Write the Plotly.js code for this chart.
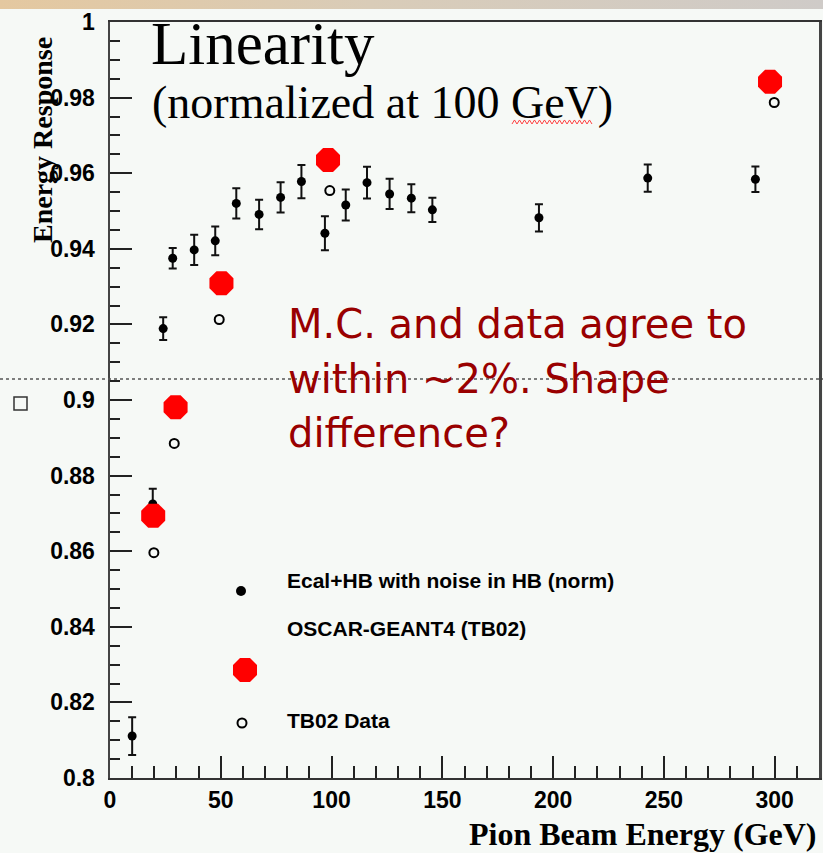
<!DOCTYPE html>
<html>
<head>
<meta charset="utf-8">
<script src="https://cdn.plot.ly/plotly-3.0.1.min.js"></script>
<style>
  html, body { margin: 0; padding: 0; background: #f6f9f6; }
  #band { position: absolute; left: 0; top: 0; width: 823px; height: 9px;
          background: linear-gradient(to right, #e4c8a0 0%, #d9ccb8 45%, #cfcbc8 100%); z-index: 2; }
  #chart { position: absolute; left: 0; top: 0; width: 823px; height: 853px; }
</style>
</head>
<body>
<div id="band"></div>
<div id="chart"></div>
<script>
// Ecal+HB with noise in HB (normalised), with statistical errors
const energyEcal = [10, 19.3, 24, 28.3, 38, 47.5, 57, 67.3, 77, 86.4, 97, 106.4, 116, 126.2, 136, 145.5, 193.6, 242.7, 291.3];
const respEcal   = [0.8111, 0.8725, 0.9189, 0.9375, 0.9397, 0.9421, 0.9520, 0.9491, 0.9536, 0.9578, 0.9441, 0.9516, 0.9575, 0.9545, 0.9534, 0.9503, 0.9482, 0.9587, 0.9584];
const errEcal    = [0.0050, 0.0040, 0.0030, 0.0027, 0.0040, 0.0038, 0.0040, 0.0039, 0.0040, 0.0044, 0.0045, 0.0041, 0.0042, 0.0040, 0.0037, 0.0032, 0.0036, 0.0036, 0.0034];

// OSCAR-GEANT4 (TB02) simulation
const energyOscar = [19.5, 29.6, 50.3, 98.4, 297.9];
const respOscar   = [0.8694, 0.8981, 0.9309, 0.9635, 0.9842];

// TB02 test-beam data
const energyTB02 = [19.8, 29.0, 49.3, 99.2, 299.8];
const respTB02   = [0.8596, 0.8885, 0.9213, 0.9554, 0.9787];

// Axis ticks
const xTicks = [0, 50, 100, 150, 200, 250, 300];
const yTicks = [0.8, 0.82, 0.84, 0.86, 0.88, 0.9, 0.92, 0.94, 0.96, 0.98, 1];

// Plot-area geometry in pixels, used to place the free text in paper units
const L = 110, T = 22, W = 709, H = 756;
const px = x => (x - L) / W;
const py = y => (T + H - y) / H;

const traces = [
  {
    x: energyEcal, y: respEcal, type: 'scatter', mode: 'markers',
    name: 'Ecal+HB with noise in HB (norm)',
    marker: { symbol: 'circle', size: 9, color: '#000' },
    error_y: { type: 'data', array: errEcal, visible: true, color: '#111', thickness: 2, width: 4 },
    showlegend: false, hoverinfo: 'x+y'
  },
  {
    x: energyOscar, y: respOscar, type: 'scatter', mode: 'markers',
    name: 'OSCAR-GEANT4 (TB02)',
    marker: { symbol: 'octagon', size: 26, color: '#ff0000', line: { width: 0 } },
    showlegend: false
  },
  {
    x: energyTB02, y: respTB02, type: 'scatter', mode: 'markers',
    name: 'TB02 Data',
    marker: { symbol: 'circle-open', size: 9, color: '#000', line: { width: 2, color: '#000' } },
    showlegend: false
  },
  // key symbols, drawn on a hidden unit overlay axis
  {
    x: [px(241)], y: [py(591)], xaxis: 'x2', yaxis: 'y2', type: 'scatter', mode: 'markers',
    marker: { symbol: 'circle', size: 10, color: '#000' }, showlegend: false, hoverinfo: 'skip'
  },
  {
    x: [px(245)], y: [py(670)], xaxis: 'x2', yaxis: 'y2', type: 'scatter', mode: 'markers',
    marker: { symbol: 'octagon', size: 26, color: '#ff0000', line: { width: 0 } }, showlegend: false, hoverinfo: 'skip'
  },
  {
    x: [px(242)], y: [py(723)], xaxis: 'x2', yaxis: 'y2', type: 'scatter', mode: 'markers',
    marker: { symbol: 'circle-open', size: 9, color: '#000', line: { width: 2, color: '#000' } }, showlegend: false, hoverinfo: 'skip'
  }
];

const tickFont = { family: 'Liberation Sans, Arial, sans-serif', size: 23, color: '#000', weight: 700 };
const serif = 'Liberation Serif, Times New Roman, serif';
const redText = { family: 'DejaVu Sans, sans-serif', size: 40, color: '#990000' };
const keyFont = { family: 'Liberation Sans, Arial, sans-serif', size: 21, color: '#000', weight: 700 };

// little red spell-check squiggle under "GeV"
let squiggle = '';
for (let x = 512, i = 0; x <= 593; x += 2.5, i++) {
  const y = (i % 2 === 0) ? 124 : 120;
  squiggle += (i === 0 ? 'M' : 'L') + px(x).toFixed(4) + ',' + py(y).toFixed(4);
}

const layout = {
  width: 823, height: 853, autosize: false,
  margin: { l: L, r: 823 - L - W, t: T, b: 853 - T - H, pad: 0 },
  paper_bgcolor: 'rgba(0,0,0,0)', plot_bgcolor: '#f6f9f6',
  showlegend: false,
  xaxis: {
    range: [0, 320], tickvals: xTicks, ticks: 'inside', ticklen: 22, tickwidth: 2, tickcolor: '#222',
    minor: { dtick: 10, ticks: 'inside', ticklen: 12, tickwidth: 2, tickcolor: '#222' },
    showgrid: false, zeroline: false, showline: true, linecolor: '#333', linewidth: 2, mirror: true,
    tickfont: tickFont, ticklabelstandoff: 0
  },
  yaxis: {
    range: [0.8, 1], tickvals: yTicks, ticks: 'inside', ticklen: 22, tickwidth: 2, tickcolor: '#222',
    minor: { dtick: 0.005, ticks: 'inside', ticklen: 10, tickwidth: 2, tickcolor: '#222' },
    showgrid: false, zeroline: false, showline: true, linecolor: '#444', linewidth: 2.5, mirror: true,
    tickfont: tickFont, ticklabelstandoff: 8
  },
  xaxis2: { overlaying: 'x', anchor: 'y2', range: [0, 1], visible: false, fixedrange: true },
  yaxis2: { overlaying: 'y', anchor: 'x2', range: [0, 1], visible: false, fixedrange: true },
  shapes: [
    // dotted rule across the page
    { type: 'line', xref: 'paper', yref: 'paper', x0: px(0), x1: px(823), y0: py(379), y1: py(379),
      line: { color: '#555', width: 1.5, dash: 'dot' }, layer: 'above' },
    // small open square at the left edge
    { type: 'rect', xref: 'paper', yref: 'paper', x0: px(14), x1: px(27), y0: py(410), y1: py(397),
      line: { color: '#333', width: 1.5 }, fillcolor: 'rgba(0,0,0,0)' },
    { type: 'path', xref: 'paper', yref: 'paper', path: squiggle,
      line: { color: '#ff4040', width: 1 } }
  ],
  annotations: [
    { text: 'Linearity', xref: 'paper', yref: 'paper', x: px(149), y: py(43), xanchor: 'left', yanchor: 'middle',
      showarrow: false, font: { family: serif, size: 61, color: '#000' } },
    { text: '(normalized at 100 GeV)', xref: 'paper', yref: 'paper', x: px(150), y: py(102), xanchor: 'left', yanchor: 'middle',
      showarrow: false, font: { family: serif, size: 46, color: '#000' } },
    { text: 'M.C. and data agree to', xref: 'paper', yref: 'paper', x: px(286), y: py(324), xanchor: 'left', yanchor: 'middle',
      showarrow: false, font: redText },
    { text: 'within ~2%. Shape', xref: 'paper', yref: 'paper', x: px(286), y: py(379), xanchor: 'left', yanchor: 'middle',
      showarrow: false, font: redText },
    { text: 'difference?', xref: 'paper', yref: 'paper', x: px(286), y: py(433), xanchor: 'left', yanchor: 'middle',
      showarrow: false, font: redText },
    { text: 'Ecal+HB with noise in HB (norm)', xref: 'paper', yref: 'paper', x: px(285), y: py(580), xanchor: 'left', yanchor: 'middle',
      showarrow: false, font: keyFont },
    { text: 'OSCAR-GEANT4 (TB02)', xref: 'paper', yref: 'paper', x: px(285), y: py(628), xanchor: 'left', yanchor: 'middle',
      showarrow: false, font: keyFont },
    { text: 'TB02 Data', xref: 'paper', yref: 'paper', x: px(285), y: py(720), xanchor: 'left', yanchor: 'middle',
      showarrow: false, font: keyFont },
    { text: 'Energy Response', xref: 'paper', yref: 'paper', x: px(43), y: py(140), xanchor: 'center', yanchor: 'middle',
      textangle: -90, showarrow: false, font: { family: serif, size: 28, color: '#000', weight: 700 } },
    { text: 'Pion Beam Energy (GeV)', xref: 'paper', yref: 'paper', x: px(819), y: py(834), xanchor: 'right', yanchor: 'middle',
      showarrow: false, font: { family: serif, size: 32, color: '#000', weight: 700 } }
  ]
};

Plotly.newPlot('chart', traces, layout, { displayModeBar: false, staticPlot: true });
</script>
</body>
</html>
